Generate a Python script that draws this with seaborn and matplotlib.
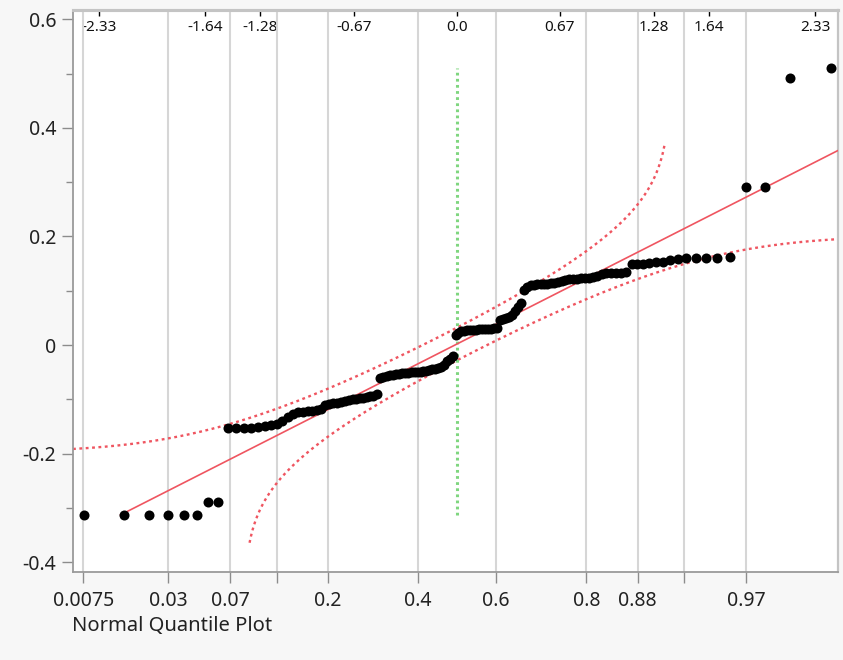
import numpy as np
import pandas as pd
import matplotlib
matplotlib.use("Agg")
import matplotlib.pyplot as plt
import seaborn as sns
from statistics import NormalDist

# Sorted sample values (residuals)
values = [
    -0.313, -0.313, -0.313, -0.313, -0.313, -0.313, -0.289, -0.289,
    -0.153, -0.153, -0.152, -0.152, -0.151, -0.150, -0.148, -0.145,
    -0.140, -0.133, -0.127, -0.124, -0.123, -0.122, -0.121, -0.120, -0.118,
    -0.110, -0.108, -0.107, -0.106, -0.105, -0.104, -0.102, -0.100, -0.099,
    -0.098, -0.097, -0.095, -0.094, -0.093, -0.091,
    -0.060, -0.058, -0.057, -0.056, -0.055, -0.054, -0.053, -0.052, -0.051,
    -0.051, -0.050, -0.050, -0.049, -0.049, -0.048, -0.047, -0.046, -0.045,
    -0.044, -0.043, -0.040, -0.036, -0.030, -0.025, -0.020,
    0.018, 0.022, 0.025, 0.026, 0.027, 0.027, 0.028, 0.028, 0.029, 0.029,
    0.030, 0.030, 0.030, 0.031, 0.031,
    0.046, 0.048, 0.050, 0.052, 0.055, 0.062, 0.070, 0.078,
    0.101, 0.106, 0.110, 0.111, 0.112, 0.112, 0.113, 0.113, 0.114, 0.115, 0.116,
    0.118, 0.120, 0.121, 0.122, 0.122, 0.123, 0.123, 0.124, 0.125, 0.128,
    0.131, 0.132, 0.132, 0.133, 0.133, 0.134,
    0.150, 0.150, 0.150, 0.151, 0.152, 0.153, 0.157, 0.158, 0.160, 0.160,
    0.160, 0.161, 0.162,
    0.291, 0.291, 0.492, 0.510,
]

# Probability gridlines (bottom axis) and normal-quantile labels (top axis)
prob_ticks = [0.0075, 0.03, 0.07, 0.12, 0.2, 0.4, 0.6, 0.8, 0.88, 0.93, 0.97]
prob_labels = ["0.0075", "0.03", "0.07", "", "0.2", "0.4", "0.6", "0.8", "0.88", "", "0.97"]
z_ticks = [-2.33, -1.64, -1.28, -0.67, 0.0, 0.67, 1.28, 1.64, 2.33]
z_labels = ["-2.33", "-1.64", "-1.28", "-0.67", "0.0", "0.67", "1.28", "1.64", "2.33"]
y_ticks = [-0.4, -0.2, 0.0, 0.2, 0.4, 0.6]
y_labels = ["-0.4", "-0.2", "0", "0.2", "0.4", "0.6"]

LILLIEFORS_D = 0.083  # half-width of the confidence band on the probability scale
BAND_T = 2.55         # band drawn for standardized values within +/- this

nd = NormalDist()
cdf = np.vectorize(nd.cdf)
ppf = np.vectorize(nd.inv_cdf)

n = len(values)
df = pd.DataFrame({
    "value": values,
    "quantile": ppf(np.arange(1, n + 1) / (n + 1)),
})
mu = df["value"].mean()
sigma = df["value"].std(ddof=1)

XLIM = (-2.5, 2.48)
YLIM = (-0.418, 0.617)

sns.set_theme(style="white")
plt.rcParams["font.family"] = ["Noto Sans", "DejaVu Sans"]

fig = plt.figure(figsize=(8.43, 6.60), dpi=100, facecolor="#f7f7f7")
ax = fig.add_axes([73 / 843, 1 - 572 / 660, (838 - 73) / 843, (572 - 10) / 660])
ax.set_facecolor("white")

red = "#ef5560"

# Lilliefors confidence bands
xg = np.linspace(XLIM[0], XLIM[1], 4000)
pg = cdf(xg)
up_p = pg + LILLIEFORS_D
ok = up_p < nd.cdf(BAND_T)
ax.plot(xg[ok], mu + sigma * ppf(up_p[ok]), color=red, lw=1.7,
        linestyle=(0, (1.2, 1.5)), zorder=2)
lo_p = pg - LILLIEFORS_D
ok = lo_p > nd.cdf(-BAND_T)
ax.plot(xg[ok], mu + sigma * ppf(lo_p[ok]), color=red, lw=1.7,
        linestyle=(0, (1.2, 1.5)), zorder=2)

# Reference line: mean + sd * z, starting where it meets the sample minimum
z_start = (df["value"].min() - mu) / sigma
zl = np.array([z_start, XLIM[1]])
ax.plot(zl, mu + sigma * zl, color=red, lw=1.2, zorder=3)

# Median marker line across the data range
ax.plot([0, 0], [df["value"].min(), df["value"].max()], color="#7fd67f",
        lw=2.2, linestyle=(0, (0.9, 1.1)), zorder=2)

sns.scatterplot(data=df, x="quantile", y="value", color="black", s=52,
                linewidth=0, ax=ax, zorder=4)

ax.set_xlim(*XLIM)
ax.set_ylim(*YLIM)
ax.set_xlabel("")
ax.set_ylabel("")

# Bottom axis: probability scale
ax.set_xticks(ppf(prob_ticks), labels=prob_labels)
ax.grid(axis="x", color="#d6d6d6", lw=1.5)
ax.grid(axis="y", visible=False)
ax.set_axisbelow(True)
ax.tick_params(axis="x", bottom=True, direction="out", length=8, width=1,
               color="#8c8c8c", labelsize=14, pad=6, labelcolor="#222222")

# Left axis
ax.set_yticks(y_ticks, labels=y_labels)
ax.set_yticks(np.arange(-0.3, 0.61, 0.2), minor=True)
ax.tick_params(axis="y", which="major", left=True, direction="out", length=8,
               width=1, color="#8c8c8c", labelsize=14, pad=4, labelcolor="#222222")
ax.tick_params(axis="y", which="minor", left=True, direction="out", length=5,
               width=1, color="#8c8c8c")

# Top axis: normal quantiles, labels inside the frame
sec = ax.secondary_xaxis("top")
sec.set_xticks(z_ticks, labels=z_labels)
sec.tick_params(direction="in", length=4, width=1, color="black",
                labelsize=11, pad=-18, labelcolor="#111111")
sec.spines["top"].set_color("#c4c4c4")
sec.spines["top"].set_linewidth(2.2)

for side, col, lw in [("left", "#9a9a9a", 1.3), ("bottom", "#9a9a9a", 1.3),
                      ("right", "#c4c4c4", 1.6), ("top", "#c4c4c4", 2.2)]:
    ax.spines[side].set_color(col)
    ax.spines[side].set_linewidth(lw)

fig.text(72 / 843, 1 - 626 / 660, "Normal Quantile Plot", fontsize=14.5,
         color="#222222", ha="left", va="center")

fig.savefig("out.png", dpi=100, facecolor=fig.get_facecolor())
